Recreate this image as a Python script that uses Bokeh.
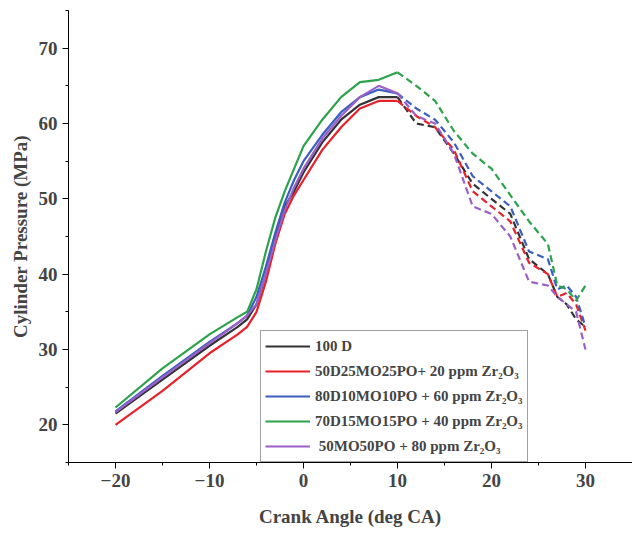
from bokeh.plotting import figure
from bokeh.embed import file_html
from bokeh.resources import INLINE
from bokeh.models import Range1d, Legend, LegendItem, FixedTicker

x = [-20, -15, -10, -7, -6, -5, -4, -3, -2, -1, 0, 2, 4, 6, 8, 10, 12, 14, 16, 18, 20, 22, 24, 26, 27, 28, 29, 30]
d100 = [21.5, 26, 30.5, 33, 34, 36, 40, 45, 49, 51, 53.5, 57.5, 60.5, 62.5, 63.5, 63.5, 60, 59.5, 56, 52, 50, 48, 42, 40, 37, 36, 34, 33]
red = [20, 24.5, 29.5, 32, 33, 35, 39, 44, 48, 50.5, 52.5, 56.5, 59.5, 62, 63, 63, 61, 59.5, 56.5, 51, 49, 47, 41.5, 40, 37, 37.5, 36, 32.5]
blue = [21.8, 26.5, 31, 33.5, 34.5, 37, 41, 45.5, 49.5, 52.5, 55, 58.5, 61.5, 63.5, 64.5, 64, 62, 60.5, 57.5, 53, 51, 49, 43, 42, 38, 38.5, 37, 33]
green = [22.3, 27.5, 32, 34.3, 35, 38, 43, 47.5, 51, 54, 57, 60.5, 63.5, 65.5, 65.8, 66.8, 65, 63, 59, 56, 54, 50.5, 47, 44, 38.5, 38, 36.5, 38.5]
purple = [21.7, 26.3, 30.8, 33.5, 34.5, 36, 40, 44.5, 48.5, 51.5, 54, 58, 61, 63.5, 65, 64, 61, 60, 56, 49, 48, 45, 39, 38.5, 37, 36, 35, 30]
names = ["100 D", "50D25MO25PO+ 20 ppm Zr\u2082O\u2083", "80D10MO10PO + 60 ppm Zr\u2082O\u2083",
         "70D15MO15PO + 40 ppm Zr\u2082O\u2083", " 50MO50PO + 80 ppm Zr\u2082O\u2083"]
colors = ["#333333", "#e8202a", "#3a5fbf", "#2ca24a", "#9a5fc8"]
series = [d100, red, blue, green, purple]

p = figure(width=632, height=529, output_backend="svg", toolbar_location=None,
           x_range=Range1d(-25, 35), y_range=Range1d(15, 75),
           min_border_left=68, min_border_bottom=63, min_border_top=10, min_border_right=0)
p.grid.visible = False
p.outline_line_color = None
font = "Liberation Serif"
for ax in (p.xaxis[0], p.yaxis[0]):
    ax.axis_label_text_font = font
    ax.axis_label_text_font_style = "bold"
    ax.axis_label_text_font_size = "19px"
    ax.major_label_text_font = font
    ax.major_label_text_font_style = "bold"
    ax.major_label_text_font_size = "19px"
    ax.axis_line_color = "black"
    ax.major_tick_line_color = "black"
    ax.minor_tick_line_color = "black"
    ax.major_tick_out = 6
    ax.major_tick_in = 0
    ax.minor_tick_out = 3
    ax.minor_tick_in = 0
p.xaxis.axis_label = "Crank Angle (deg CA)"
p.yaxis.axis_label = "Cylinder Pressure (MPa)"
p.xaxis.axis_label_standoff = 16
p.xaxis.ticker = FixedTicker(ticks=[-20, -10, 0, 10, 20, 30], minor_ticks=list(range(-25, 36, 5)))
p.yaxis.ticker = FixedTicker(ticks=[20, 30, 40, 50, 60, 70], minor_ticks=list(range(15, 76, 5)))

items = []
split = x.index(10)
for s, c, n in zip(series, colors, names):
    r = p.line(x[:split + 1], s[:split + 1], line_color=c, line_width=2.2)
    p.line(x[split:], s[split:], line_color=c, line_width=2.2, line_dash="7 4")
    items.append(LegendItem(label=n, renderers=[r]))

leg = Legend(items=items, location=(192, 0), label_text_font=font, label_text_font_style="bold",
             label_text_font_size="15px", glyph_width=45, border_line_color="#444444",
             padding=4, spacing=3, label_height=22, margin=0)
p.add_layout(leg, "center")

open("out.html", "w").write(file_html(p, INLINE))
